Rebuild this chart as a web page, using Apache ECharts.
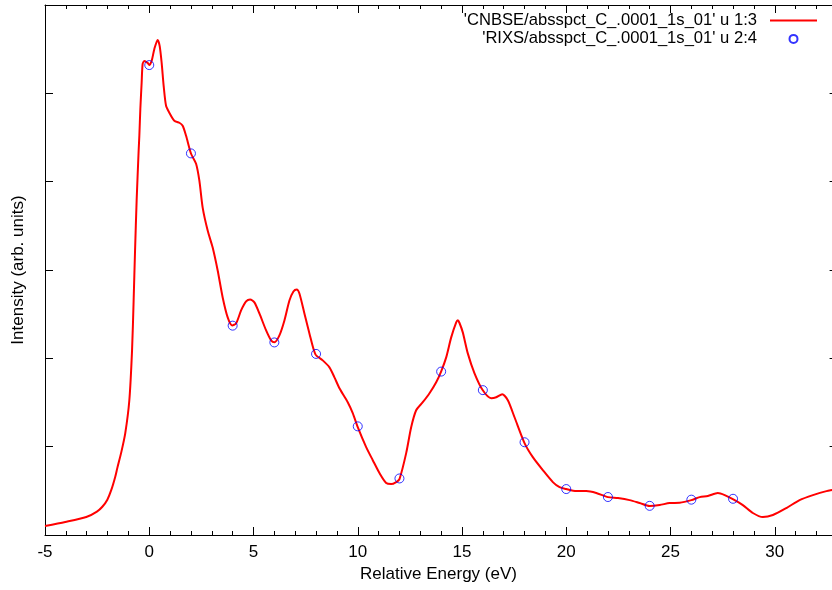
<!DOCTYPE html>
<html>
<head>
<meta charset="utf-8">
<script src="https://cdn.jsdelivr.net/npm/echarts@6/dist/echarts.min.js"></script>
<style>
    html, body { margin: 0; padding: 0; background: #fff; overflow: hidden; }
    /* plot runs on past the window edge, like the gnuplot frame in the picture */
    #chart_spectrum { width: 879px; height: 590px; }
</style>
</head>
<body>
<div id="chart_spectrum"></div>
<script>
// CNBSE spectrum (u 1:3)
var cnbse_energy = [
    -5.0, -4.03, -3.02, -2.51, -2.25, -2.01, -1.82, -1.63, -1.53, -1.34, -1.15,
    -0.955, -0.825, -0.749, -0.681, -0.605, -0.509, -0.475, -0.427, -0.365, -0.317,
    -0.235, -0.077, 0.0, 0.115, 0.245, 0.403, 0.499, 0.595, 0.691, 0.806,
    0.964, 1.204, 1.444, 1.603, 1.766, 2.006, 2.246, 2.404, 2.562, 2.802,
    3.042, 3.282, 3.522, 3.762, 3.973, 4.165, 4.405, 4.645, 4.837, 5.043,
    5.283, 5.605, 5.845, 6.003, 6.243, 6.483, 6.723, 6.915, 7.073, 7.202,
    7.442, 7.682, 7.970, 8.321, 8.642, 8.882, 9.122, 9.520, 9.760, 10.0,
    10.403, 10.720, 11.041, 11.363, 11.603, 11.843, 12.001, 12.323, 12.562, 12.802,
    13.119, 13.441, 13.762, 14.002, 14.242, 14.482, 14.722, 14.80, 14.88, 15.038,
    15.278, 15.600, 15.998, 16.401, 16.641, 16.929, 17.198, 17.519, 17.999, 18.397,
    18.877, 19.357, 19.679, 20.0, 20.48, 20.96, 21.44, 22.0, 22.48, 23.04,
    23.52, 24.0, 24.48, 24.96, 25.44, 26.0, 26.40, 26.79, 27.27, 27.60,
    27.99, 28.47, 28.95, 29.43, 29.91, 30.56, 31.19, 31.83, 32.48, 33.0
];
var cnbse_intensity = [
    0.102, 0.147, 0.203, 0.265, 0.32, 0.40, 0.51, 0.66, 0.76, 0.938, 1.153,
    1.525, 2.09, 2.655, 3.22, 3.785, 4.35, 4.52, 4.825, 5.12, 5.333,
    5.367, 5.345, 5.322, 5.367, 5.503, 5.605, 5.537, 5.345, 5.085, 4.859,
    4.78, 4.689, 4.667, 4.633, 4.52, 4.316, 4.203, 4.011, 3.706, 3.446,
    3.254, 2.994, 2.689, 2.463, 2.373, 2.395, 2.542, 2.644, 2.667, 2.633,
    2.508, 2.316, 2.203, 2.181, 2.26, 2.429, 2.655, 2.757, 2.78, 2.734,
    2.508, 2.282, 2.045, 1.977, 1.898, 1.785, 1.661, 1.503, 1.379, 1.22,
    0.994, 0.847, 0.701, 0.588, 0.576, 0.599, 0.633, 0.927, 1.22, 1.412,
    1.503, 1.605, 1.729, 1.853, 2.011, 2.237, 2.407, 2.43, 2.40, 2.294,
    2.056, 1.831, 1.638, 1.548, 1.559, 1.593, 1.525, 1.333, 1.04, 0.881,
    0.734, 0.599, 0.542, 0.52, 0.497, 0.497, 0.475, 0.429, 0.418, 0.395,
    0.362, 0.328, 0.339, 0.362, 0.365, 0.395, 0.429, 0.441, 0.475, 0.452,
    0.407, 0.339, 0.249, 0.203, 0.226, 0.305, 0.395, 0.452, 0.497, 0.52
];

// RIXS points (u 2:4)
var rixs_energy = [0, 2, 4, 6, 8, 10, 12, 14, 16, 18, 20, 22, 24, 26, 28];
var rixs_intensity = [5.32, 4.32, 2.37, 2.18, 2.05, 1.23, 0.64, 1.85, 1.64, 1.05, 0.52, 0.43, 0.33, 0.40, 0.41];

var name_cnbse = "'CNBSE/absspct_C_.0001_1s_01' u 1:3";
var name_rixs = "'RIXS/absspct_C_.0001_1s_01' u 2:4";

var font = 'Liberation Sans, Arial, sans-serif';

var chart_spectrum = {
    echarts: echarts.init(document.getElementById('chart_spectrum')),
    drawEcharts: function () {
        let line_data = cnbse_energy.map(function (e, i) { return [e, cnbse_intensity[i]]; });
        let point_data = rixs_energy.map(function (e, i) { return [e, rixs_intensity[i]]; });

        // frame axis (shared style for all four sides)
        let xFrame = function (pos, withLabel) {
            return {
                type: 'value',
                position: pos,
                min: -5,
                max: 35,
                interval: 5,
                axisLine: { show: true, onZero: false, lineStyle: { color: '#000', width: 1 } },
                axisTick: { show: true, inside: true, length: 8, lineStyle: { color: '#000' } },
                minorTick: { show: true, splitNumber: 5, length: 4, lineStyle: { color: '#000' } },
                axisLabel: { show: withLabel, color: '#000', fontSize: 17, fontFamily: font, margin: 9 },
                splitLine: { show: false }
            };
        };
        let yFrame = function (pos, offset) {
            return {
                type: 'value',
                position: pos,
                offset: offset,
                min: 0,
                max: 6,
                interval: 1,
                axisLine: { show: true, onZero: false, lineStyle: { color: '#000', width: 1 } },
                axisTick: { show: true, inside: true, length: 8, lineStyle: { color: '#000' } },
                axisLabel: { show: false },
                splitLine: { show: false }
            };
        };

        let xBottom = xFrame('bottom', true);
        xBottom.name = 'Relative Energy (eV)';
        xBottom.nameLocation = 'middle';
        xBottom.nameGap = 31;
        xBottom.nameTextStyle = { color: '#000', fontSize: 17, fontFamily: font, padding: [0, 47, 0, 0] };

        let yLeft = yFrame('left', 0);
        yLeft.name = 'Intensity (arb. units)';
        yLeft.nameLocation = 'middle';
        yLeft.nameGap = 18;
        yLeft.nameTextStyle = { color: '#000', fontSize: 17, fontFamily: font };

        let option = {
            animation: false,
            backgroundColor: '#fff',
            grid: { left: 45, right: 0, top: 5, bottom: 55, containLabel: false, outerBoundsMode: 'none' },
            legend: {
                orient: 'vertical',
                align: 'right',
                right: 62,
                top: 12,
                padding: 0,
                itemGap: 1.4,
                itemWidth: 47,
                itemHeight: 8,
                textStyle: { color: '#000', fontSize: 16.6, fontFamily: font, padding: [0, 8, 0, 0] },
                data: [
                    { name: name_cnbse, icon: 'path://M0,0 H47 V2 H0 Z' },
                    { name: name_rixs, icon: 'circle' }
                ]
            },
            xAxis: [xBottom, xFrame('top', false)],
            yAxis: [yLeft, yFrame('right', -41.4)],
            series: [
                {
                    name: name_cnbse,
                    type: 'line',
                    data: line_data,
                    color: '#ff0000',
                    lineStyle: { width: 2 },
                    smooth: 0.25,
                    symbol: 'none',
                    showSymbol: false
                },
                {
                    name: name_rixs,
                    type: 'scatter',
                    data: point_data,
                    symbol: 'circle',
                    symbolSize: 9,
                    itemStyle: { color: 'rgba(0,0,0,0)', borderColor: '#0000ff', borderWidth: 1 },
                    z: 3
                }
            ]
        };

        this.echarts.setOption(option);
    }
};

chart_spectrum.drawEcharts();
</script>
</body>
</html>
